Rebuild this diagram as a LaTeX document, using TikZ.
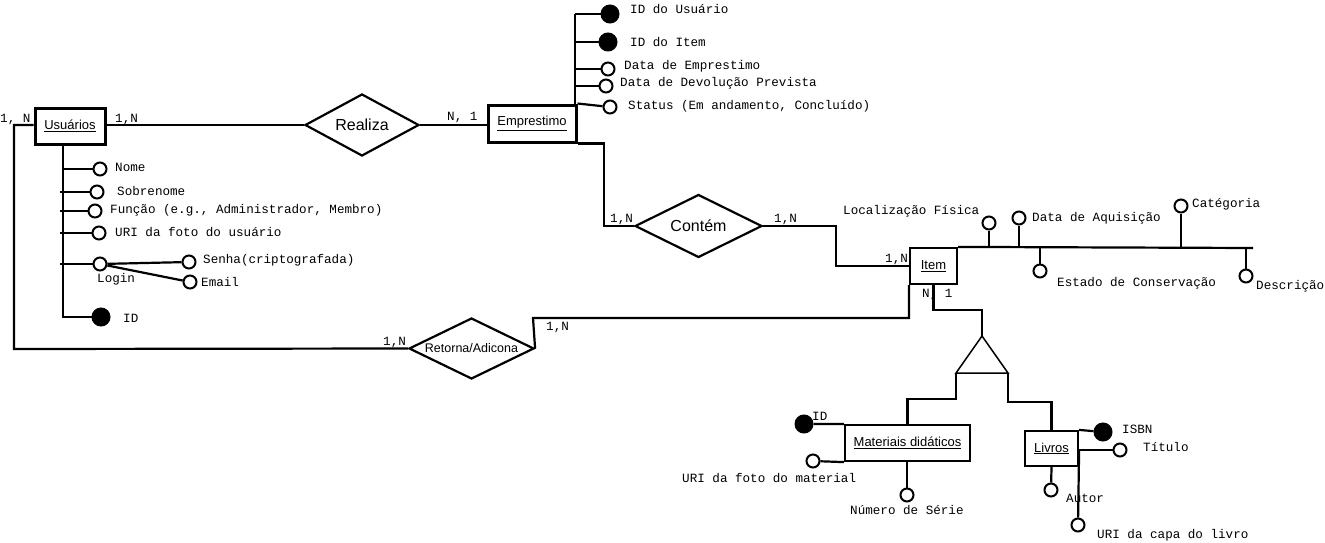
\documentclass[tikz,border=0pt]{standalone}
\usepackage{fontspec}
\setmainfont{Liberation Sans}
\newfontfamily\monof{Liberation Mono}
\usetikzlibrary{shapes.geometric}
\begin{document}
\begin{tikzpicture}[x=1pt,y=-1pt,
  ln/.style={line width=2.2pt},
  entity/.style={draw, line width=3pt, inner sep=0pt, font=\fontsize{13}{15}\selectfont},
  weak/.style={draw, line width=2.2pt, inner sep=0pt, font=\fontsize{13}{15}\selectfont},
  rel/.style={draw, diamond, aspect=2, line width=2.2pt, inner sep=0pt},
  attr/.style={draw, circle, line width=2pt, minimum size=13pt, inner sep=0pt, fill=white},
  key/.style={draw, circle, line width=1pt, minimum size=18pt, inner sep=0pt, fill=black},
  atxt/.style={anchor=west, inner sep=0pt, font=\monof\fontsize{12.6}{14}\selectfont},
  card/.style={anchor=west, inner sep=0pt, font=\monof\fontsize{12.6}{14}\selectfont},
]
\useasboundingbox[fill=white] (0,0) rectangle (1325,543);

% ---------- entities ----------
\node[entity, minimum width=70pt, minimum height=36pt] (usu) at (70,126) {\underline{Usuários}};
\node[entity, minimum width=88pt, minimum height=37pt] (emp) at (532,123.5) {\underline{Emprestimo}};
\node[weak, minimum width=47pt, minimum height=36pt] (item) at (933.5,266) {\underline{Item}};
\node[weak, minimum width=125pt, minimum height=36pt] (mat) at (907.5,443) {\underline{Materiais didáticos}};
\node[weak, minimum width=53pt, minimum height=35pt] (liv) at (1051.5,448.5) {\underline{Livros}};

% ---------- relationships ----------
\node[rel, minimum width=114pt, minimum height=62pt, font=\fontsize{16}{18}\selectfont] (realiza) at (362,125) {Realiza};
\node[rel, minimum width=127pt, minimum height=63pt, font=\fontsize{16}{18}\selectfont] (contem) at (698.5,226) {Contém};
\node[rel, minimum width=125pt, minimum height=61pt, font=\fontsize{12.5}{14}\selectfont] (ret) at (471.5,348.5) {Retorna/Adicona};

% ---------- helper coordinates ----------
\coordinate (lc) at (14,349);
\coordinate (uv) at (63,144);
\coordinate (uvb) at (63,317);
\coordinate (us) at (60,0);
\coordinate (ev) at (575,14);
\coordinate (ec) at (604,0);
\coordinate (ci) at (836,266);
\coordinate (ibar) at (1253,248);
\coordinate (rr) at (533,318);
\coordinate (tr1) at (982,310);
\coordinate (tA) at (982,336);
\coordinate (tL) at (956,373);
\coordinate (tR) at (1008,373);
\coordinate (tml) at (956,399);
\coordinate (tmr) at (1008,402);

% ---------- Usuários attributes ----------
\node[attr] (nome) at (100,169) {};
\node[attr] (sobre) at (97,192) {};
\node[attr] (funcao) at (95,211) {};
\node[attr] (uri) at (99,233) {};
\node[attr] (login) at (100,264) {};
\node[attr] (senha) at (189,262) {};
\node[attr] (email) at (190,282) {};
\node[key] (uid) at (101,317) {};

\draw[ln] (uv) -- (uvb) -- (uid);
\draw[ln] (uv |- nome) -- (nome);
\draw[ln] (us |- sobre) -- (sobre);
\draw[ln] (us |- funcao) -- (funcao);
\draw[ln] (us |- uri) -- (uri);
\draw[ln] (us |- login) -- (login);
\draw[ln] (login) -- (senha);
\draw[ln] (login) -- (email);

\node[atxt] (tnome) at (115,167) {Nome};
\node[atxt] (tsobre) at (117,191) {Sobrenome};
\node[atxt] (tfunc) at (110,210) {Função (e.g., Administrador, Membro)};
\node[atxt] (turi) at (115,232) {URI da foto do usuário};
\node[atxt] (tsenha) at (203,260) {Senha(criptografada)};
\node[atxt] (temail) at (201,282) {Email};
\node[atxt] (tlogin) at (97,279) {Login};
\node[atxt] (tuid) at (123,318) {ID};

% ---------- Emprestimo attributes ----------
\node[key] (idusu) at (610,14) {};
\node[key] (iditem) at (608,42) {};
\node[attr] (dtemp) at (608,69) {};
\node[attr] (dtdev) at (606,86) {};
\node[attr] (status) at (610,107) {};

\draw[ln] (ev) -- (ev |- emp.north);
\draw[ln] (ev) -- (idusu);
\draw[ln] (ev |- iditem) -- (iditem);
\draw[ln] (ev |- dtemp) -- (dtemp);
\draw[ln] (ev |- dtdev) -- (dtdev);
\draw[ln] (emp.north east) -- (status);

\node[atxt] (tidusu) at (630,9) {ID do Usuário};
\node[atxt] (tiditem) at (630,42) {ID do Item};
\node[atxt] (tdtemp) at (624,66) {Data de Emprestimo};
\node[atxt] (tdtdev) at (620,83) {Data de Devolução Prevista};
\node[atxt] (tstatus) at (628,106) {Status (Em andamento, Concluído)};

% ---------- Item attributes ----------
\node[attr] (loc) at (989,223) {};
\node[attr] (aqu) at (1019,218) {};
\node[attr] (est) at (1040,271) {};
\node[attr] (cat) at (1181,206) {};
\node[attr] (desc) at (1246,276) {};

\draw[ln] (item.north east) -- (ibar);
\draw[ln] (loc |- ibar) -- (loc);
\draw[ln] (aqu |- ibar) -- (aqu);
\draw[ln] (est |- ibar) -- (est);
\draw[ln] (cat |- ibar) -- (cat);
\draw[ln] (desc |- ibar) -- (desc);

\node[atxt] (tloc) at (843,211) {Localização Física};
\node[atxt] (taqu) at (1032,218) {Data de Aquisição};
\node[atxt] (test) at (1057,283) {Estado de Conservação};
\node[atxt] (tcat) at (1192,204) {Catégoria};
\node[atxt] (tdesc) at (1256,286) {Descrição};

% ---------- relationship connectors ----------
\draw[ln] (usu.east |- realiza.west) -- (realiza.west);
\draw[ln] (usu.west |- realiza.west) -| (lc) -- (ret.west);
\draw[ln] (realiza.east) -- (realiza.east -| emp.west);
\draw[ln] (emp.south east) -| (contem.west -| ec) -- (contem.west);
\draw[ln] (contem.east) -| (ci) -- (item.west);
\draw[ln] (item.south west) |- (rr) -- (ret.east);
\draw[ln] (item.south) |- (tr1) -- (tA);

\node[card] (c1) at (0,119) {1,~N};
\node[card] (c2) at (115,119) {1,N};
\node[card] (c3) at (447,117) {N,~1};
\node[card] (c4) at (610,219) {1,N};
\node[card] (c5) at (774,219) {1,N};
\node[card] (c6) at (885,259) {1,N};
\node[card] (c7) at (922,294) {N,~1};
\node[card] (c8) at (383,342) {1,N};
\node[card] (c9) at (546,327) {1,N};

% ---------- specialization ----------
\draw[line width=1.5pt] (tA) -- (tR) -- (tL) -- cycle;
\draw[ln] (tL) -- (tml) -| (mat.north);
\draw[ln] (tR) -- (tmr) -| (liv.north);

% ---------- Materiais attributes ----------
\node[key] (mid) at (804,424) {};
\node[attr] (murl) at (813,461) {};
\node[attr] (mnum) at (907,495) {};
\draw[ln] (mat.north west) -- (mid);
\draw[ln] (mat.south west) -- (murl);
\draw[ln] (mat.south -| mnum) -- (mnum);
\node[atxt] (tmid) at (812,416) {ID};
\node[atxt] (tmurl) at (682,478) {URI da foto do material};
\node[atxt] (tmnum) at (850,510) {Número de Série};

% ---------- Livros attributes ----------
\node[key] (isbn) at (1103,432) {};
\node[attr] (tit) at (1120,450) {};
\node[attr] (aut) at (1051,490) {};
\node[attr] (capa) at (1078,525) {};
\draw[ln] (liv.north east) -- (isbn);
\draw[ln] (liv.east |- tit) -- (tit);
\draw[ln] (liv.south) -- (aut);
\draw[ln] (liv.east |- tit) -- (capa);
\node[atxt] (tisbn) at (1122,429) {ISBN};
\node[atxt] (ttit) at (1143,447) {Título};
\node[atxt] (taut) at (1066,498) {Autor};
\node[atxt] (tcapa) at (1097,535) {URI da capa do livro};
\end{tikzpicture}
\end{document}
